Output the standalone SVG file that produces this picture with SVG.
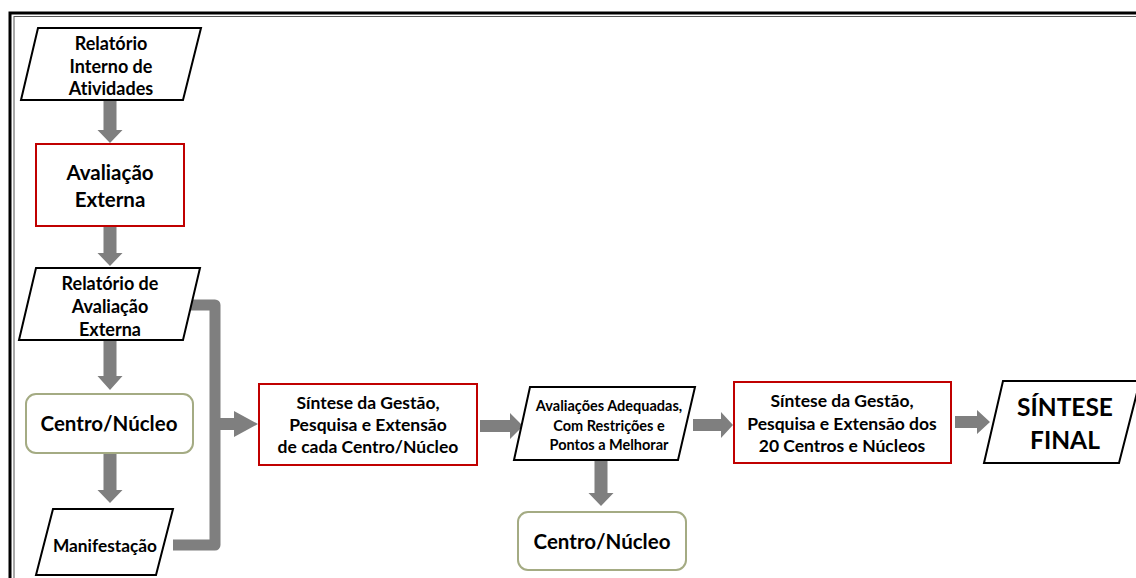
<svg xmlns="http://www.w3.org/2000/svg" width="1136" height="578" viewBox="0 0 1136 578">
<style>
.t{font-family:Lato,"Open Sans","Liberation Sans",sans-serif;font-weight:bold;fill:#000;text-anchor:middle;dominant-baseline:central;font-variant-ligatures:none}
.para{fill:#fff;stroke:#000;stroke-width:2}
.red{fill:#fff;stroke:#c00000;stroke-width:2}
.grn{fill:#fff;stroke:#a4ab83;stroke-width:2}
.arr{fill:#7f7f7f}
.br{fill:none;stroke:#7f7f7f;stroke-width:11;stroke-linejoin:round}
</style>
<rect width="1136" height="578" fill="#fff"/>
<rect x="10" y="13" width="1140" height="600" fill="none" stroke="#000" stroke-width="3"/>
<rect x="14" y="16.5" width="1140" height="600" fill="none" stroke="#555" stroke-width="1"/>
<g id="connectors">
<polygon class="arr" points="103.5,100 116.5,100 116.5,130 122.5,130 110,143 97.5,130 103.5,130"/>
<polygon class="arr" points="103.5,226 116.5,226 116.5,253 122.5,253 110,266 97.5,253 103.5,253"/>
<polygon class="arr" points="103.5,340 116.5,340 116.5,376 122.5,376 110,390 97.5,376 103.5,376"/>
<polygon class="arr" points="103.5,453 116.5,453 116.5,490 122.5,490 110,503 97.5,490 103.5,490"/>
<path class="br" d="M190,305 H215 V545 H173"/>
<polygon class="arr" points="215,418 234,418 234,411 258,424 234,437 234,430 215,430"/>
<polygon class="arr" points="480,420 510,420 510,413 523,426 510,439 510,432 480,432"/>
<polygon class="arr" points="594.5,460 607.5,460 607.5,493 613.5,493 601,506 588.5,493 594.5,493"/>
<polygon class="arr" points="693,419 721,419 721,412 733,425 721,438 721,431 693,431"/>
<polygon class="arr" points="955,416 977,416 977,410 990,422 977,434 977,428 955,428"/>
</g>
<g id="n1">
<polygon class="para" points="38,28 201,28 183,100 21,100"/>
<text class="t" x="111" y="43" font-size="18">Relatório</text>
<text class="t" x="111" y="66" font-size="18">Interno de</text>
<text class="t" x="111" y="88" font-size="18">Atividades</text>
</g>
<g id="n2">
<rect class="red" x="36" y="144" width="148" height="82"/>
<text class="t" x="110" y="172" font-size="20.5">Avaliação</text>
<text class="t" x="110" y="199" font-size="20.5">Externa</text>
</g>
<g id="n3">
<polygon class="para" points="36,268 200,268 183,340 19,340"/>
<text class="t" x="110" y="283" font-size="18">Relatório de</text>
<text class="t" x="110" y="306" font-size="18">Avaliação</text>
<text class="t" x="110" y="329" font-size="18">Externa</text>
</g>
<g id="n4">
<rect class="grn" x="26" y="394" width="167" height="59" rx="10"/>
<text class="t" x="109" y="423" font-size="20.5">Centro/Núcleo</text>
</g>
<g id="n5">
<polygon class="para" points="53,509 173,509 156,575 36,575"/>
<text class="t" x="105" y="545" font-size="17.3">Manifestação</text>
</g>
<g id="n6">
<rect class="red" x="259" y="384" width="218" height="81"/>
<text class="t" x="368" y="402" font-size="17.5">Síntese da Gestão,</text>
<text class="t" x="368" y="424" font-size="17.5">Pesquisa  e Extensão</text>
<text class="t" x="368" y="446" font-size="17.5">de cada Centro/Núcleo</text>
</g>
<g id="n7">
<polygon class="para" points="530,387 695,387 678,460 514,460"/>
<text class="t" x="609" y="405" font-size="14.5">Avaliações  Adequadas,</text>
<text class="t" x="609" y="425" font-size="14.5">Com Restrições e</text>
<text class="t" x="609" y="444" font-size="14.5">Pontos a Melhorar</text>
</g>
<g id="n8">
<rect class="grn" x="518" y="512" width="168" height="58" rx="10"/>
<text class="t" x="602" y="541" font-size="20.5">Centro/Núcleo</text>
</g>
<g id="n9">
<rect class="red" x="734" y="382" width="217" height="81"/>
<text class="t" x="842" y="400" font-size="17.5">Síntese da Gestão,</text>
<text class="t" x="842" y="423" font-size="17.5">Pesquisa e Extensão dos</text>
<text class="t" x="842" y="445" font-size="17.5">20 Centros e Núcleos</text>
</g>
<g id="n10">
<polygon class="para" points="1003,381 1140,381 1119,463 984,463"/>
<text class="t" x="1065" y="406" font-size="24.5">SÍNTESE</text>
<text class="t" x="1065" y="439" font-size="24.5">FINAL</text>
</g>
</svg>
